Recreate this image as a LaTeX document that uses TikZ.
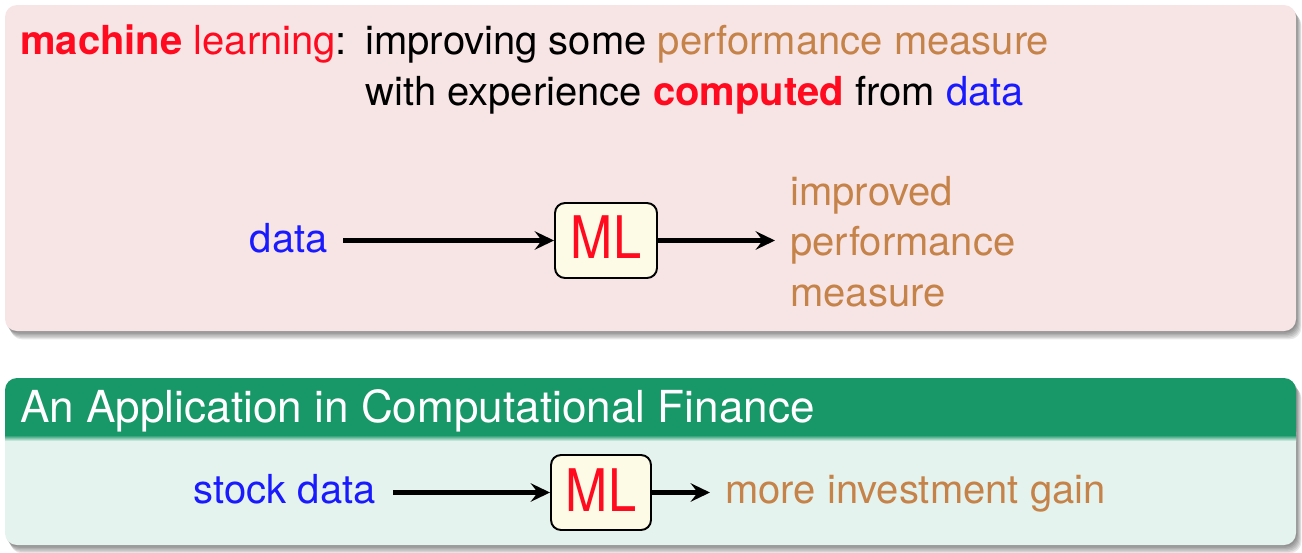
\documentclass[tikz,border=0pt]{standalone}
\usepackage{fontspec}
\usepackage{graphicx}
\setmainfont{TeX Gyre Heros}
\usetikzlibrary{arrows.meta}
\definecolor{pinkbg}{HTML}{F7E5E5}
\definecolor{greenhd}{HTML}{189868}
\definecolor{greenbg}{HTML}{E5F3EF}
\definecolor{brownt}{HTML}{C58349}
\definecolor{bluet}{HTML}{1A1AFF}
\definecolor{redt}{HTML}{FF0A1E}
\definecolor{creambox}{HTML}{FDFBE6}
\begin{document}
\begin{tikzpicture}[x=0.02cm,y=-0.02cm,
  txt/.style={inner sep=0pt, font=\fontsize{22.76pt}{28.5pt}\selectfont},
  hdtxt/.style={inner sep=0pt, text=white, font=\fontsize{25.1pt}{30pt}\selectfont},
  mlbox/.style={draw=black, line width=1.1pt, fill=creambox, rounded corners=0.2cm,
    minimum height=1.5cm, inner sep=0pt, text=redt, font=\fontsize{28.8pt}{30pt}\selectfont},
  flow/.style={line width=2.3pt, -{Stealth[length=11pt,width=10.5pt,inset=4pt]}},
  shadowlayer/.style={fill=black, opacity=0.09, rounded corners=0.24cm},
]
\useasboundingbox (0,0) rectangle (1302,552);
% shadows
\foreach \i in {1,...,6}{
  \fill[shadowlayer] (5+0.9*\i,5+1.4*\i) rectangle (1296+0.9*\i,331+1.4*\i);
  \fill[shadowlayer] (5+0.9*\i,378+1.4*\i) rectangle (1296+0.9*\i,545+1.4*\i);
}
% top block
\fill[pinkbg, rounded corners=0.24cm] (5,5) rectangle (1296,331);
% bottom block
\fill[greenbg, rounded corners=0.24cm] (5,420) rectangle (1296,545);
\fill[greenhd, rounded corners=0.24cm] (5,378) rectangle (1296,440);
\fill[greenhd] (5,420) rectangle (1296,436);
\shade[top color=greenhd, bottom color=greenbg] (5,435) rectangle (1296,441);
\fill[greenbg] (5,441) rectangle (1296,460);

% top texts
\node[txt, anchor=base west] (t1) at (20,54) {\textcolor{redt}{\textbf{machine} learning}:};
\node[txt, anchor=base west] (t2) at (365,54) {improving some \textcolor{brownt}{performance measure}};
\node[txt, anchor=base west] (t3) at (365,105) {with experience \textcolor{redt}{\textbf{computed}} from \textcolor{bluet}{data}};

\node[txt, anchor=base east, text=bluet, inner xsep=0.3cm] (d1) at (343,252) {data};
\node[mlbox, minimum width=2.04cm] (ml1) at (606,240.5) {\raisebox{0.12cm}{\scalebox{1}[1.16]{ML}}};
\node[txt, anchor=base west, text=brownt] (o1) at (790,205) {improved};
\node[txt, anchor=base west, text=brownt, inner xsep=0.3cm] (o2) at (775,255) {performance};
\node[txt, anchor=base west, text=brownt] (o3) at (790,306) {measure};
\draw[flow] (d1.east |- ml1.west) -- (ml1.west);
\draw[flow] (ml1.east) -- (o2.west |- ml1.east);

% bottom texts
\node[hdtxt, anchor=base west] (h) at (20,422) {An Application in Computational Finance};
\node[txt, anchor=base east, text=bluet, inner xsep=0.34cm] (d2) at (393,503) {stock data};
\node[mlbox, minimum width=2.0cm] (ml2) at (601,492.5) {\raisebox{0.11cm}{\scalebox{1}[1.16]{ML}}};
\node[txt, anchor=base west, text=brownt, inner xsep=0.3cm] (o4) at (710,503) {more investment gain};
\draw[flow] (d2.east |- ml2.west) -- (ml2.west);
\draw[flow] (ml2.east) -- (o4.west |- ml2.east);
\end{tikzpicture}
\end{document}
